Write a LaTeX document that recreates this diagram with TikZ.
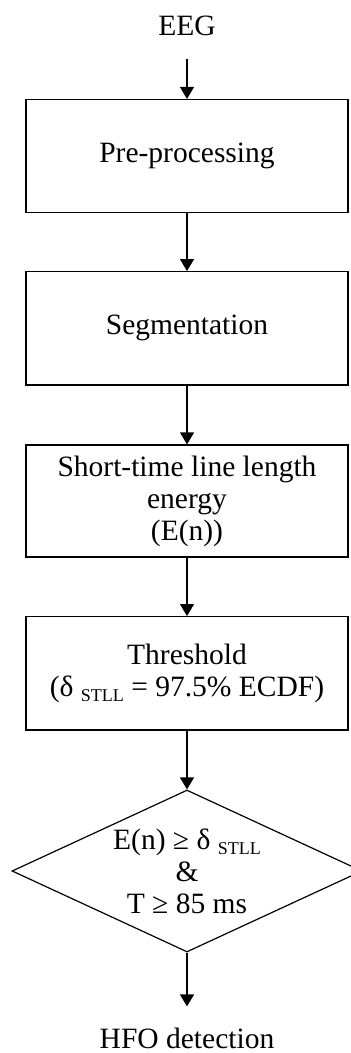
\documentclass[tikz,border=0pt]{standalone}
\usepackage{fontspec}
\setmainfont{Liberation Serif}
\usetikzlibrary{shapes.geometric,arrows.meta}
\newcommand\stllsub{\raisebox{-5pt}{\fontsize{18}{18}\selectfont STLL}}
\begin{document}
\begin{tikzpicture}[x=1pt,y=-1pt,
  txt/.style={font=\fontsize{29.5}{32}\selectfont,align=center,inner sep=3pt},
  box/.style={txt,draw,line width=1.2pt,minimum width=322pt},
  dia/.style={draw,line width=1.2pt,diamond,minimum width=350pt,minimum height=162pt,inner sep=0pt},
  flow/.style={line width=1.2pt,-{Triangle[width=14pt,length=12pt]}}]
\clip (0,0) rectangle (351,1053);
\useasboundingbox (0,0) rectangle (351,1053);
\node[txt] (eeg) at (187,26) {EEG};
\node[box,minimum height=113.2pt] (b1) at (187,156.1) {Pre-processing};
\node[box,minimum height=113.3pt] (b2) at (187,328.3) {Segmentation};
\node[box,minimum height=112pt] (b3) at (187,501) {Short-time line length\\energy\\(E(n))};
\node[box,minimum height=113.3pt] (b4) at (187,673.3) {Threshold\\(δ \stllsub{} = 97.5\% ECDF)};
\node[dia] (d) at (187,871) {};
\node[txt] (dt) at (187,871) {E(n) ≥ δ \stllsub\\\&\\T ≥ 85 ms};
\node[txt] (hfo) at (187,1038) {HFO detection};
\draw[flow,shorten <=20pt] (eeg) -- (b1);
\draw[flow] (b1) -- (b2);
\draw[flow] (b2) -- (b3);
\draw[flow] (b3) -- (b4);
\draw[flow] (b4) -- (d);
\draw[flow,shorten >=18pt] (d) -- (hfo);
\end{tikzpicture}
\end{document}
